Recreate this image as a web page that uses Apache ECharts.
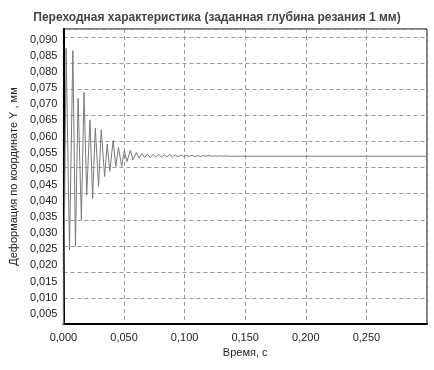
<!DOCTYPE html>
<html>
<head>
<meta charset="utf-8">
<script src="https://cdn.jsdelivr.net/npm/echarts@6/dist/echarts.min.js"></script>
<style>
html,body{margin:0;padding:0;background:#fff;}
#chart{width:434px;height:370px;}
</style>
</head>
<body>
<div id="chart"></div>
<script>
// Data
const titleText = 'Переходная характеристика (заданная глубина резания 1 мм)';
const xName = 'Время, с';
const yName = 'Деформация по координате Y , мм';

const timeS = [
  0.0000, 0.0022, 0.0050, 0.0078, 0.0099, 0.0121, 0.0148, 0.0170, 0.0192, 0.0219,
  0.0241, 0.0263, 0.0290, 0.0312, 0.0340, 0.0361, 0.0383, 0.0410, 0.0432, 0.0454,
  0.0481, 0.0503, 0.0524, 0.0552, 0.0573, 0.0601, 0.0624, 0.0647, 0.0670, 0.0693,
  0.0716, 0.0739, 0.0762, 0.0785, 0.0808, 0.0831, 0.0854, 0.0877, 0.0900, 0.0923,
  0.0946, 0.0969, 0.0992, 0.1015, 0.1038, 0.1061, 0.1084, 0.1107, 0.1130, 0.1153,
  0.1176, 0.1199, 0.1222, 0.1245, 0.1268, 0.1291, 0.1314, 0.1337, 0.1360, 0.3000
];
const deformMM = [
  0.0000, 0.0874, 0.0249, 0.0867, 0.0259, 0.0719, 0.0342, 0.0737, 0.0419, 0.0652,
  0.0407, 0.0626, 0.0445, 0.0621, 0.0476, 0.0577, 0.0492, 0.0588, 0.0507, 0.0566,
  0.0507, 0.0557, 0.0522, 0.0557, 0.0528, 0.0550, 0.0533, 0.0547, 0.0534, 0.0546,
  0.0535, 0.0545, 0.0536, 0.0545, 0.0536, 0.0544, 0.0537, 0.0544, 0.0537, 0.0543,
  0.0537, 0.0543, 0.0538, 0.0542, 0.0538, 0.0542, 0.0538, 0.0541, 0.0538, 0.0541,
  0.0539, 0.0541, 0.0539, 0.0540, 0.0539, 0.0540, 0.0539, 0.0540, 0.0539, 0.0539
];

const seriesData = timeS.map((t, i) => [t, deformMM[i]]);
const fmt = v => v.toFixed(3).replace('.', ',');

const chart = echarts.init(document.getElementById('chart'), null, {renderer: 'canvas'});
const gridLine = {show: true, lineStyle: {color: '#9a9a9a', type: [4, 3], width: 1}};
chart.setOption({
  backgroundColor: '#ffffff',
  animation: false,
  title: {
    text: titleText,
    left: 'center',
    top: 7,
    textStyle: {fontFamily: 'Liberation Sans', fontSize: 12, fontWeight: 'bold', color: '#444'}
  },
  grid: {left: 61, right: 7, top: 29, bottom: 46, show: true, borderColor: '#000', borderWidth: 1, backgroundColor: 'transparent'},
  xAxis: {
    type: 'value', min: 0, max: 0.3, interval: 0.05,
    name: xName, nameLocation: 'middle', nameGap: 22,
    nameTextStyle: {fontFamily: 'Liberation Sans', fontSize: 11, color: '#222'},
    axisLine: {show: true, onZero: false, lineStyle: {color: '#000', width: 2}},
    axisTick: {show: false},
    axisLabel: {formatter: fmt, showMaxLabel: false, margin: 8, fontFamily: 'Liberation Sans', fontSize: 11, color: '#222'},
    splitLine: gridLine
  },
  yAxis: [{
    type: 'value', min: 0.0018, max: 0.0934, minInterval: 0.005, maxInterval: 0.005,
    name: yName, nameLocation: 'middle', nameGap: 35, nameRotate: 90,
    nameTextStyle: {fontFamily: 'Liberation Sans', fontSize: 11, color: '#222'},
    axisLine: {show: true, onZero: false, lineStyle: {color: '#000', width: 2}},
    axisTick: {show: false},
    axisLabel: {formatter: fmt, showMinLabel: false, showMaxLabel: false, margin: 6, fontFamily: 'Liberation Sans', fontSize: 11, color: '#222'},
    splitLine: {show: false}
  }, {
    type: 'value', min: 0, max: 11.32, interval: 1, position: 'left',
    axisLine: {show: false}, axisTick: {show: false}, axisLabel: {show: false},
    splitLine: gridLine
  }],
  series: [{
    type: 'line',
    xAxisIndex: 0, yAxisIndex: 0,
    data: seriesData,
    showSymbol: false,
    symbol: 'none',
    clip: true,
    lineStyle: {color: '#7a7a7a', width: 1},
    z: 3
  }]
});
</script>
</body>
</html>
